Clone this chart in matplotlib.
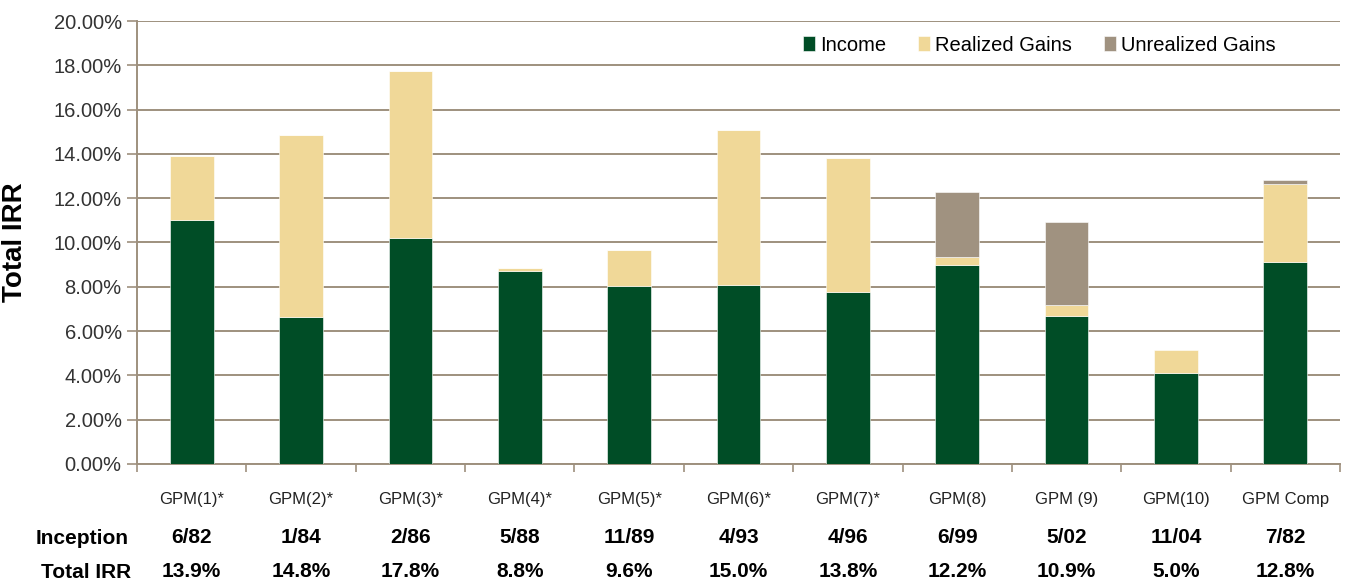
import matplotlib
matplotlib.use("Agg")
import matplotlib.pyplot as plt
import numpy as np

# data (percent)
funds = ["GPM(1)*", "GPM(2)*", "GPM(3)*", "GPM(4)*", "GPM(5)*", "GPM(6)*",
         "GPM(7)*", "GPM(8)", "GPM (9)", "GPM(10)", "GPM Comp"]
income = [11.0, 6.65, 10.2, 8.73, 8.04, 8.08, 7.75, 9.0, 6.7, 4.1, 9.13]
realized = [2.9, 8.2, 7.55, 0.13, 1.6, 7.0, 6.05, 0.33, 0.48, 1.05, 3.5]
unrealized = [0.0, 0.0, 0.0, 0.0, 0.0, 0.0, 0.0, 2.94, 3.73, -0.1, 0.2]
inception = ["6/82", "1/84", "2/86", "5/88", "11/89", "4/93", "4/96",
             "6/99", "5/02", "11/04", "7/82"]
total_irr = ["13.9%", "14.8%", "17.8%", "8.8%", "9.6%", "15.0%", "13.8%",
             "12.2%", "10.9%", "5.0%", "12.8%"]

GREEN = "#004D26"
TAN = "#F0D898"
TAUPE = "#A09280"
GRID = "#9E907E"

plt.rcParams["font.family"] = ["Liberation Sans", "DejaVu Sans"]

fig = plt.figure(figsize=(13.46, 5.85), dpi=100)
ax = fig.add_axes([0.1018, 0.207, 0.8937, 0.757])

x = np.arange(len(funds))
inc = np.array(income)
rea = np.array(realized)
unr = np.array(unrealized)
w = 0.4

ax.bar(x, inc, w, color=GREEN, edgecolor="white", linewidth=0.4, label="Income", zorder=3)
ax.bar(x, rea, w, bottom=inc, color=TAN, edgecolor="white", linewidth=0.4,
       label="Realized Gains", zorder=3)
# negative unrealized part hangs below zero, like Excel stacking
unr_bottom = np.where(unr < 0, 0, inc + rea)
ax.bar(x, unr, w, bottom=unr_bottom, color=TAUPE, edgecolor="white", linewidth=0.4,
       label="Unrealized Gains", zorder=3)

ax.set_ylim(0, 20)
ax.set_xlim(-0.5, len(funds) - 0.5)
ax.set_yticks(np.arange(0, 21, 2))
ax.set_yticklabels([f"{v:.2f}%" for v in np.arange(0, 21, 2)], fontsize=14.5, color="#333333")
ax.yaxis.grid(True, color=GRID, linewidth=1.4, zorder=0)
ax.set_axisbelow(True)

ax.set_xticks(x)
ax.set_xticklabels(funds, fontsize=12, color="#222222")
ax.tick_params(axis="x", length=0, pad=20)
ax.set_xticks(np.arange(-0.5, len(funds), 1), minor=True)
ax.tick_params(axis="x", which="minor", length=6, width=1.2, color=GRID)
ax.tick_params(axis="y", length=7, width=1.2, color=GRID, pad=4)

for s in ["top", "right"]:
    ax.spines[s].set_visible(False)
for s in ["left", "bottom"]:
    ax.spines[s].set_color(GRID)
    ax.spines[s].set_linewidth(1.4)

ax.set_ylabel("Total IRR", fontsize=20, fontweight="bold")
ax.yaxis.set_label_coords(-0.091, 0.5)

leg = ax.legend(loc="upper right", bbox_to_anchor=(0.962, 1.008), ncol=3, frameon=False,
                handlelength=0.6, handleheight=0.75, handletextpad=0.25,
                columnspacing=1.6, prop={"size": 14.5})

tr = ax.get_xaxis_transform()
for i in range(len(funds)):
    ax.text(x[i], -0.167, inception[i], transform=tr, ha="center", va="center",
            fontsize=15, fontweight="bold")
    ax.text(x[i], -0.244, total_irr[i], transform=tr, ha="center", va="center",
            fontsize=15, fontweight="bold")
fig.text(0.061, 1 - 538 / 585, "Inception", ha="center", va="center",
         fontsize=15, fontweight="bold")
fig.text(0.064, 1 - 572 / 585, "Total IRR", ha="center", va="center",
         fontsize=15, fontweight="bold")

fig.savefig("out.png", dpi=100)
